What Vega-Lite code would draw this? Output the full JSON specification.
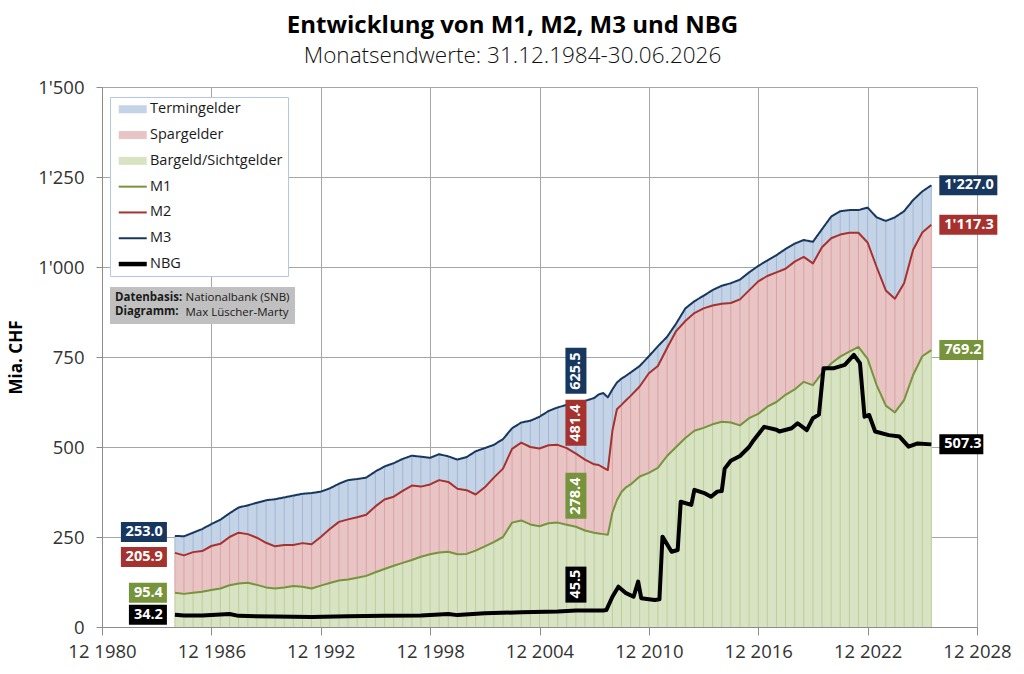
{
  "$schema": "https://vega.github.io/schema/vega-lite/v6.json",
  "width": 875,
  "height": 540,
  "autosize": {"type": "none"},
  "padding": {"left": 102, "top": 87, "right": 47, "bottom": 47},
  "background": "white",
  "title": {
    "text": "Entwicklung von M1, M2, M3 und NBG",
    "subtitle": "Monatsendwerte: 31.12.1984-30.06.2026",
    "anchor": "middle",
    "frame": "group",
    "dx": -27,
    "offset": 11,
    "font": "Open Sans",
    "fontSize": 24,
    "fontWeight": "bold",
    "color": "black",
    "subtitleFont": "Open Sans",
    "subtitleFontSize": 22.5,
    "subtitleFontWeight": 300,
    "subtitleColor": "#111111",
    "subtitlePadding": 7
  },
  "config": {
    "view": {"stroke": null},
    "font": "Open Sans",
    "locale": {"number": {"decimal": ".", "thousands": "'", "grouping": [3], "currency": ["", ""]}},
    "axis": {
      "labelFont": "Open Sans",
      "labelFontSize": 18.5,
      "labelColor": "#333333",
      "tickColor": "#8c8c8c",
      "domainColor": "#8c8c8c",
      "gridColor": "#a6a6a6",
      "grid": true,
      "titleFont": "Open Sans"
    },
    "axisX": {"tickSize": 8, "labelPadding": 7, "labelFlush": false, "labelOverlap": false},
    "axisY": {"tickSize": 6, "labelPadding": 12, "labelExpr": "format(datum.value, ',')", "titleFontSize": 17, "titleFontWeight": "bold", "titleColor": "black", "titlePadding": 12}
  },
  "datasets": {
    "money": [
      {"date": "1984-12-31", "m1": 95.4, "m2": 205.9, "m3": 253.0},
      {"date": "1985-06-30", "m1": 92, "m2": 199, "m3": 252},
      {"date": "1985-12-31", "m1": 95, "m2": 208, "m3": 262},
      {"date": "1986-06-30", "m1": 98, "m2": 211, "m3": 272},
      {"date": "1986-12-31", "m1": 103, "m2": 225, "m3": 286},
      {"date": "1987-06-30", "m1": 107, "m2": 231, "m3": 298},
      {"date": "1987-12-31", "m1": 116, "m2": 250, "m3": 316},
      {"date": "1988-06-30", "m1": 121, "m2": 262, "m3": 332},
      {"date": "1988-12-31", "m1": 123, "m2": 258, "m3": 338},
      {"date": "1989-06-30", "m1": 117, "m2": 248, "m3": 345},
      {"date": "1989-12-31", "m1": 110, "m2": 234, "m3": 352},
      {"date": "1990-06-30", "m1": 107, "m2": 224, "m3": 355},
      {"date": "1990-12-31", "m1": 110, "m2": 228, "m3": 360},
      {"date": "1991-06-30", "m1": 114, "m2": 228, "m3": 365},
      {"date": "1991-12-31", "m1": 112, "m2": 233, "m3": 370},
      {"date": "1992-06-30", "m1": 107, "m2": 230, "m3": 372},
      {"date": "1992-12-31", "m1": 115, "m2": 250, "m3": 376},
      {"date": "1993-06-30", "m1": 122, "m2": 272, "m3": 385},
      {"date": "1993-12-31", "m1": 129, "m2": 292, "m3": 398},
      {"date": "1994-06-30", "m1": 132, "m2": 299, "m3": 408},
      {"date": "1994-12-31", "m1": 137, "m2": 305, "m3": 411},
      {"date": "1995-06-30", "m1": 142, "m2": 312, "m3": 415},
      {"date": "1995-12-31", "m1": 152, "m2": 335, "m3": 432},
      {"date": "1996-06-30", "m1": 161, "m2": 354, "m3": 446},
      {"date": "1996-12-31", "m1": 170, "m2": 362, "m3": 455},
      {"date": "1997-06-30", "m1": 178, "m2": 378, "m3": 467},
      {"date": "1997-12-31", "m1": 186, "m2": 393, "m3": 476},
      {"date": "1998-06-30", "m1": 195, "m2": 390, "m3": 473},
      {"date": "1998-12-31", "m1": 202, "m2": 396, "m3": 470},
      {"date": "1999-06-30", "m1": 207, "m2": 408, "m3": 480},
      {"date": "1999-12-31", "m1": 209, "m2": 403, "m3": 474},
      {"date": "2000-06-30", "m1": 202, "m2": 384, "m3": 465},
      {"date": "2000-12-31", "m1": 203, "m2": 380, "m3": 472},
      {"date": "2001-06-30", "m1": 212, "m2": 368, "m3": 488},
      {"date": "2001-12-31", "m1": 224, "m2": 388, "m3": 497},
      {"date": "2002-06-30", "m1": 236, "m2": 415, "m3": 506},
      {"date": "2002-12-31", "m1": 250, "m2": 440, "m3": 522},
      {"date": "2003-06-30", "m1": 290, "m2": 495, "m3": 552},
      {"date": "2003-12-31", "m1": 296, "m2": 512, "m3": 568},
      {"date": "2004-06-30", "m1": 285, "m2": 500, "m3": 573},
      {"date": "2004-12-31", "m1": 280, "m2": 496, "m3": 584},
      {"date": "2005-06-30", "m1": 288, "m2": 505, "m3": 600},
      {"date": "2005-12-31", "m1": 290, "m2": 506, "m3": 610},
      {"date": "2006-06-30", "m1": 284, "m2": 497, "m3": 617},
      {"date": "2006-12-31", "m1": 278.4, "m2": 481.4, "m3": 625.5},
      {"date": "2007-06-30", "m1": 268, "m2": 465, "m3": 628},
      {"date": "2007-12-31", "m1": 262, "m2": 452, "m3": 636},
      {"date": "2008-03-31", "m1": 260, "m2": 450, "m3": 646},
      {"date": "2008-06-30", "m1": 258, "m2": 443, "m3": 650},
      {"date": "2008-09-30", "m1": 256, "m2": 436, "m3": 638},
      {"date": "2008-12-31", "m1": 318, "m2": 545, "m3": 660},
      {"date": "2009-03-31", "m1": 352, "m2": 605, "m3": 679},
      {"date": "2009-06-30", "m1": 375, "m2": 617, "m3": 690},
      {"date": "2009-09-30", "m1": 388, "m2": 630, "m3": 698},
      {"date": "2009-12-31", "m1": 396, "m2": 642, "m3": 707},
      {"date": "2010-06-30", "m1": 418, "m2": 668, "m3": 725},
      {"date": "2010-12-31", "m1": 428, "m2": 705, "m3": 752},
      {"date": "2011-06-30", "m1": 442, "m2": 725, "m3": 780},
      {"date": "2011-12-31", "m1": 475, "m2": 775, "m3": 806},
      {"date": "2012-06-30", "m1": 500, "m2": 822, "m3": 843},
      {"date": "2012-12-31", "m1": 525, "m2": 850, "m3": 885},
      {"date": "2013-06-30", "m1": 545, "m2": 872, "m3": 905},
      {"date": "2013-12-31", "m1": 553, "m2": 885, "m3": 920},
      {"date": "2014-06-30", "m1": 563, "m2": 893, "m3": 936},
      {"date": "2014-12-31", "m1": 570, "m2": 898, "m3": 948},
      {"date": "2015-06-30", "m1": 568, "m2": 900, "m3": 955},
      {"date": "2015-12-31", "m1": 560, "m2": 910, "m3": 965},
      {"date": "2016-06-30", "m1": 580, "m2": 935, "m3": 985},
      {"date": "2016-12-31", "m1": 592, "m2": 960, "m3": 1003},
      {"date": "2017-06-30", "m1": 612, "m2": 975, "m3": 1018},
      {"date": "2017-12-31", "m1": 625, "m2": 985, "m3": 1033},
      {"date": "2018-06-30", "m1": 645, "m2": 995, "m3": 1050},
      {"date": "2018-12-31", "m1": 660, "m2": 1015, "m3": 1065},
      {"date": "2019-06-30", "m1": 681, "m2": 1028, "m3": 1075},
      {"date": "2019-12-31", "m1": 672, "m2": 1010, "m3": 1070},
      {"date": "2020-06-30", "m1": 705, "m2": 1055, "m3": 1105},
      {"date": "2020-12-31", "m1": 732, "m2": 1080, "m3": 1140},
      {"date": "2021-06-30", "m1": 751, "m2": 1090, "m3": 1155},
      {"date": "2021-12-31", "m1": 765, "m2": 1095, "m3": 1158},
      {"date": "2022-06-30", "m1": 778, "m2": 1095, "m3": 1158},
      {"date": "2022-12-31", "m1": 745, "m2": 1068, "m3": 1165},
      {"date": "2023-06-30", "m1": 672, "m2": 1000, "m3": 1138},
      {"date": "2023-12-31", "m1": 615, "m2": 935, "m3": 1128},
      {"date": "2024-06-30", "m1": 596, "m2": 912, "m3": 1138},
      {"date": "2024-12-31", "m1": 630, "m2": 955, "m3": 1155},
      {"date": "2025-06-30", "m1": 700, "m2": 1048, "m3": 1186},
      {"date": "2025-12-31", "m1": 752, "m2": 1096, "m3": 1210},
      {"date": "2026-06-30", "m1": 769.2, "m2": 1117.3, "m3": 1227.0}
    ],
    "nbg": [
      {"date": "1984-12-31", "nbg": 34.2},
      {"date": "1985-06-30", "nbg": 32},
      {"date": "1986-06-30", "nbg": 32},
      {"date": "1987-12-31", "nbg": 36},
      {"date": "1988-06-30", "nbg": 31},
      {"date": "1990-06-30", "nbg": 29},
      {"date": "1992-06-30", "nbg": 28},
      {"date": "1994-06-30", "nbg": 30},
      {"date": "1996-06-30", "nbg": 31},
      {"date": "1998-06-30", "nbg": 32},
      {"date": "1999-12-31", "nbg": 36},
      {"date": "2000-06-30", "nbg": 33},
      {"date": "2001-12-31", "nbg": 38},
      {"date": "2003-12-31", "nbg": 41},
      {"date": "2005-12-31", "nbg": 43},
      {"date": "2006-12-31", "nbg": 45.5},
      {"date": "2008-06-30", "nbg": 46},
      {"date": "2008-08-31", "nbg": 47},
      {"date": "2008-12-31", "nbg": 84},
      {"date": "2009-04-30", "nbg": 112},
      {"date": "2009-09-30", "nbg": 94},
      {"date": "2010-02-28", "nbg": 84},
      {"date": "2010-05-31", "nbg": 126},
      {"date": "2010-07-31", "nbg": 80},
      {"date": "2011-04-30", "nbg": 75},
      {"date": "2011-07-31", "nbg": 77},
      {"date": "2011-09-30", "nbg": 251},
      {"date": "2012-03-31", "nbg": 209},
      {"date": "2012-07-31", "nbg": 214},
      {"date": "2012-09-30", "nbg": 348},
      {"date": "2013-04-30", "nbg": 339},
      {"date": "2013-06-30", "nbg": 381},
      {"date": "2014-01-31", "nbg": 371},
      {"date": "2014-05-31", "nbg": 362},
      {"date": "2014-09-30", "nbg": 376},
      {"date": "2014-12-31", "nbg": 378},
      {"date": "2015-02-28", "nbg": 440},
      {"date": "2015-06-30", "nbg": 462},
      {"date": "2015-12-31", "nbg": 475},
      {"date": "2016-06-30", "nbg": 500},
      {"date": "2016-09-30", "nbg": 519},
      {"date": "2017-04-30", "nbg": 556},
      {"date": "2017-12-31", "nbg": 548},
      {"date": "2018-02-28", "nbg": 543},
      {"date": "2018-10-31", "nbg": 552},
      {"date": "2019-02-28", "nbg": 566},
      {"date": "2019-08-31", "nbg": 547},
      {"date": "2019-12-31", "nbg": 580},
      {"date": "2020-04-30", "nbg": 590},
      {"date": "2020-07-31", "nbg": 719},
      {"date": "2021-02-28", "nbg": 719},
      {"date": "2021-09-30", "nbg": 728},
      {"date": "2022-03-31", "nbg": 756},
      {"date": "2022-07-31", "nbg": 733},
      {"date": "2022-10-31", "nbg": 584},
      {"date": "2023-01-31", "nbg": 589},
      {"date": "2023-05-31", "nbg": 543},
      {"date": "2024-02-29", "nbg": 533},
      {"date": "2024-09-30", "nbg": 529},
      {"date": "2025-03-31", "nbg": 501},
      {"date": "2025-09-30", "nbg": 510},
      {"date": "2026-06-30", "nbg": 507.3}
    ],
    "labels": [
      {"date": "1984-12-31", "series": "M3", "value": 253.0},
      {"date": "1984-12-31", "series": "M2", "value": 205.9},
      {"date": "1984-12-31", "series": "M1", "value": 95.4},
      {"date": "1984-12-31", "series": "NBG", "value": 34.2},
      {"date": "2006-12-31", "series": "M3", "value": 625.5},
      {"date": "2006-12-31", "series": "M2", "value": 481.4},
      {"date": "2006-12-31", "series": "M1", "value": 278.4},
      {"date": "2006-12-31", "series": "NBG", "value": 45.5},
      {"date": "2026-06-30", "series": "M3", "value": 1227.0},
      {"date": "2026-06-30", "series": "M2", "value": 1117.3},
      {"date": "2026-06-30", "series": "M1", "value": 769.2},
      {"date": "2026-06-30", "series": "NBG", "value": 507.3}
    ]
  },
  "encoding": {
    "x": {
      "field": "date",
      "type": "temporal",
      "title": null,
      "scale": {"domain": [{"year": 1980, "month": 12, "date": 31}, {"year": 2028, "month": 12, "date": 31}], "nice": false},
      "axis": {
        "values": [
          {"year": 1980, "month": 12, "date": 31},
          {"year": 1986, "month": 12, "date": 31},
          {"year": 1992, "month": 12, "date": 31},
          {"year": 1998, "month": 12, "date": 31},
          {"year": 2004, "month": 12, "date": 31},
          {"year": 2010, "month": 12, "date": 31},
          {"year": 2016, "month": 12, "date": 31},
          {"year": 2022, "month": 12, "date": 31},
          {"year": 2028, "month": 12, "date": 31}
        ],
        "format": "%m %Y"
      }
    }
  },
  "layer": [
    {
      "data": {"name": "money"},
      "mark": {"type": "area", "opacity": 1},
      "encoding": {
        "y": {
          "field": "m1",
          "type": "quantitative",
          "scale": {"domain": [0, 1500], "nice": false},
          "axis": {"title": "Mia. CHF", "values": [0, 250, 500, 750, 1000, 1250, 1500]}
        },
        "y2": {"datum": 0},
        "fill": {"datum": "Bargeld/Sichtgelder"}
      }
    },
    {
      "data": {"name": "money"},
      "mark": {"type": "area", "opacity": 1},
      "encoding": {
        "y": {"field": "m2", "type": "quantitative"},
        "y2": {"field": "m1"},
        "fill": {"datum": "Spargelder"}
      }
    },
    {
      "data": {"name": "money"},
      "mark": {"type": "area", "opacity": 1},
      "encoding": {
        "y": {"field": "m3", "type": "quantitative"},
        "y2": {"field": "m2"},
        "fill": {"datum": "Termingelder"}
      }
    },
    {
      "data": {"name": "money"},
      "transform": [{"filter": {"timeUnit": "month", "field": "date", "oneOf": [6, 12]}}],
      "mark": {"type": "rule", "color": "#bccf97", "strokeWidth": 1},
      "encoding": {
        "y": {"field": "m1", "type": "quantitative"},
        "y2": {"datum": 0}
      }
    },
    {
      "data": {"name": "money"},
      "transform": [{"filter": {"timeUnit": "month", "field": "date", "oneOf": [6, 12]}}],
      "mark": {"type": "rule", "color": "#dba3a3", "strokeWidth": 1},
      "encoding": {
        "y": {"field": "m2", "type": "quantitative"},
        "y2": {"field": "m1"}
      }
    },
    {
      "data": {"name": "money"},
      "transform": [{"filter": {"timeUnit": "month", "field": "date", "oneOf": [6, 12]}}],
      "mark": {"type": "rule", "color": "#a0b8d8", "strokeWidth": 1},
      "encoding": {
        "y": {"field": "m3", "type": "quantitative"},
        "y2": {"field": "m2"}
      }
    },
    {
      "data": {"name": "money"},
      "mark": {"type": "line", "color": "#77933c", "strokeWidth": 2, "strokeJoin": "round"},
      "encoding": {
        "y": {"field": "m1", "type": "quantitative"}
      }
    },
    {
      "data": {"name": "money"},
      "mark": {"type": "line", "color": "#a5322e", "strokeWidth": 2, "strokeJoin": "round"},
      "encoding": {
        "y": {"field": "m2", "type": "quantitative"}
      }
    },
    {
      "data": {"name": "money"},
      "mark": {"type": "line", "color": "#17375e", "strokeWidth": 2, "strokeJoin": "round"},
      "encoding": {
        "y": {"field": "m3", "type": "quantitative"},
        "strokeDash": {
          "datum": "Nationalbank (SNB)",
          "scale": {"domain": ["Nationalbank (SNB)", "Max Lüscher-Marty"], "range": [[1, 0], [1, 0]]},
          "legend": {
            "title": ["Datenbasis:", "Diagramm:"],
            "orient": "none",
            "legendX": 8,
            "legendY": 200,
            "titleOrient": "left",
            "titleAnchor": "start",
            "titleBaseline": "top",
            "titleFont": "Open Sans",
            "titleFontSize": 11.5,
            "titleFontWeight": "bold",
            "titleColor": "#1a1a1a",
            "titleLineHeight": 13.5,
            "titlePadding": 0,
            "labelFont": "Open Sans",
            "labelFontSize": 11.5,
            "labelColor": "#1a1a1a",
            "labelOffset": -9,
            "rowPadding": 2,
            "symbolSize": 1,
            "symbolOpacity": 0,
            "symbolStrokeWidth": 0,
            "padding": 5,
            "fillColor": "#c0c0c0"
          }
        }
      }
    },
    {
      "data": {"name": "nbg"},
      "mark": {"type": "line", "color": "#000000", "strokeWidth": 4, "strokeJoin": "round"},
      "encoding": {
        "y": {"field": "nbg", "type": "quantitative"}
      }
    },
    {
      "data": {"name": "labels"},
      "transform": [{"filter": "false"}],
      "mark": {"type": "point", "filled": true},
      "encoding": {
        "y": {"field": "value", "type": "quantitative"},
        "fill": {
          "field": "series",
          "type": "nominal",
          "scale": {
            "domain": ["Termingelder", "Spargelder", "Bargeld/Sichtgelder", "M1", "M2", "M3", "NBG"],
            "range": ["#c4d3e6", "#e8c4c5", "#d8e3c3", "#77933c", "#a5322e", "#17375e", "#000000"]
          },
          "legend": {
            "title": null,
            "orient": "none",
            "legendX": 8,
            "legendY": 10,
            "fillColor": "white",
            "strokeColor": "#b4c7e7",
            "padding": 5,
            "labelFont": "Open Sans",
            "labelFontSize": 14.5,
            "labelColor": "#1a1a1a",
            "labelLimit": 300,
            "symbolSize": 4,
            "symbolStrokeWidth": 0,
            "symbolOpacity": 1,
            "symbolOffset": 10.5,
            "labelOffset": 10,
            "rowPadding": 10.8
          }
        },
        "shape": {
          "field": "series",
          "type": "nominal",
          "scale": {
            "domain": ["Termingelder", "Spargelder", "Bargeld/Sichtgelder", "M1", "M2", "M3", "NBG"],
            "range": ["M-14,-4H14V4H-14Z", "M-14,-4H14V4H-14Z", "M-14,-4H14V4H-14Z", "M-14,-1H14V1H-14Z", "M-14,-1H14V1H-14Z", "M-14,-1H14V1H-14Z", "M-14,-2.25H14V2.25H-14Z"]
          },
          "legend": {
            "title": null,
            "orient": "none",
            "legendX": 8,
            "legendY": 10,
            "fillColor": "white",
            "strokeColor": "#b4c7e7",
            "padding": 5,
            "labelFont": "Open Sans",
            "labelFontSize": 14.5,
            "labelColor": "#1a1a1a",
            "labelLimit": 300,
            "symbolSize": 4,
            "symbolStrokeWidth": 0,
            "symbolOpacity": 1,
            "symbolOffset": 10.5,
            "labelOffset": 10,
            "rowPadding": 10.8
          }
        }
      }
    },
    {
      "data": {"name": "labels"},
      "transform": [{"filter": {"timeUnit": "year", "field": "date", "equal": 1984}}],
      "mark": {"type": "point", "filled": true, "opacity": 1, "strokeWidth": 0, "size": 4, "xOffset": -8, "yOffset": {"expr": "datum.series === 'M3' ? -4 : datum.series === 'M2' ? 4 : 0"}},
      "encoding": {
        "y": {"field": "value", "type": "quantitative"},
        "color": {"field": "series", "type": "nominal", "scale": {"domain": ["M1", "M2", "M3", "NBG"], "range": ["#77933c", "#a5322e", "#17375e", "#000000"]}, "legend": null},
        "shape": {"condition": {"test": "datum.value < 100", "value": "M-38,-10H0V10H-38Z"}, "value": "M-46,-10H0V10H-46Z"}
      }
    },
    {
      "data": {"name": "labels"},
      "transform": [{"filter": {"timeUnit": "year", "field": "date", "equal": 1984}}],
      "mark": {"type": "text", "align": "right", "baseline": "middle", "xOffset": -12, "yOffset": {"expr": "datum.series === 'M3' ? -4 : datum.series === 'M2' ? 4 : 0"}, "fill": "white", "font": "Open Sans", "fontSize": 14.5, "fontWeight": "bold"},
      "encoding": {
        "y": {"field": "value", "type": "quantitative"},
        "text": {"field": "value", "type": "quantitative", "format": ",.1f"}
      }
    },
    {
      "data": {"name": "labels"},
      "transform": [{"filter": {"timeUnit": "year", "field": "date", "equal": 2006}}],
      "mark": {"type": "point", "filled": true, "opacity": 1, "strokeWidth": 0, "size": 4, "yOffset": -8},
      "encoding": {
        "y": {"field": "value", "type": "quantitative"},
        "color": {"field": "series", "type": "nominal", "legend": null},
        "shape": {"condition": {"test": "datum.value < 100", "value": "M-10.5,0V-36H10.5V0Z"}, "value": "M-10.5,0V-46H10.5V0Z"}
      }
    },
    {
      "data": {"name": "labels"},
      "transform": [{"filter": {"timeUnit": "year", "field": "date", "equal": 2006}}],
      "mark": {"type": "text", "angle": 270, "align": "left", "baseline": "middle", "yOffset": -12, "fill": "white", "font": "Open Sans", "fontSize": 14.5, "fontWeight": "bold"},
      "encoding": {
        "y": {"field": "value", "type": "quantitative"},
        "text": {"field": "value", "type": "quantitative", "format": ",.1f"}
      }
    },
    {
      "data": {"name": "labels"},
      "transform": [{"filter": {"timeUnit": "year", "field": "date", "equal": 2026}}],
      "mark": {"type": "point", "filled": true, "opacity": 1, "strokeWidth": 0, "size": 4, "xOffset": 8},
      "encoding": {
        "y": {"field": "value", "type": "quantitative"},
        "color": {"field": "series", "type": "nominal", "legend": null},
        "shape": {"condition": {"test": "datum.value >= 1000", "value": "M0,-10H58V10H0Z"}, "value": "M0,-10H44V10H0Z"}
      }
    },
    {
      "data": {"name": "labels"},
      "transform": [{"filter": {"timeUnit": "year", "field": "date", "equal": 2026}}],
      "mark": {"type": "text", "align": "left", "baseline": "middle", "xOffset": 13, "fill": "white", "font": "Open Sans", "fontSize": 14.5, "fontWeight": "bold"},
      "encoding": {
        "y": {"field": "value", "type": "quantitative"},
        "text": {"field": "value", "type": "quantitative", "format": ",.1f"}
      }
    }
  ]
}
